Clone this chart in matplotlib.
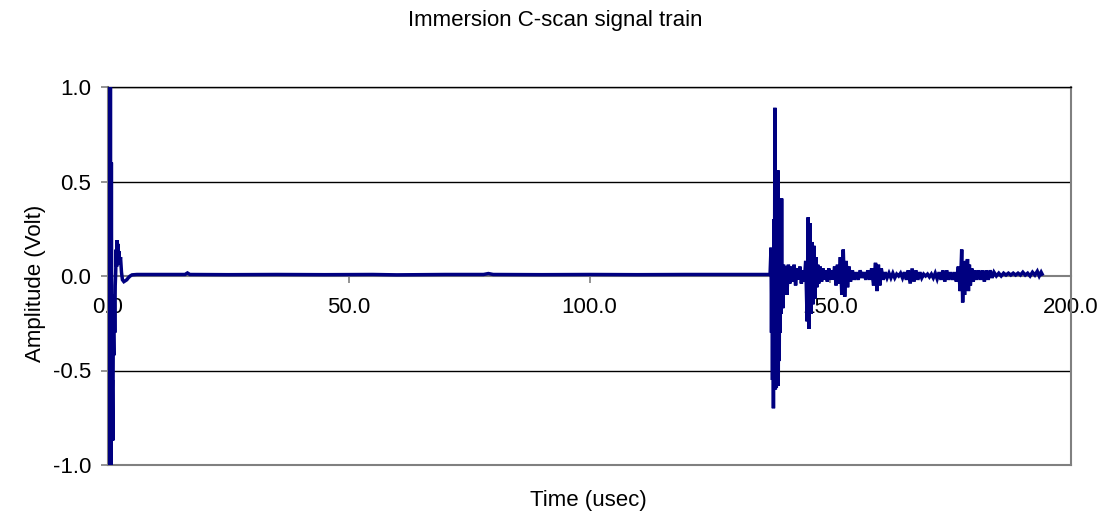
import matplotlib
matplotlib.use('Agg')
import matplotlib.pyplot as plt

plt.rcParams['font.family'] = ['Liberation Sans', 'DejaVu Sans']

# initial pulse (main bang) and ringing
bang_t = [0.0, 0.1, 0.2, 0.3, 0.4, 0.5, 0.6, 0.7, 0.8, 0.9, 1.0, 1.1, 1.2, 1.3, 1.4,
          1.5, 1.6, 1.7, 1.8, 1.9, 2.0, 2.1, 2.2, 2.3, 2.4, 2.6, 2.8, 3.0, 3.3, 3.6,
          3.9, 4.2, 4.6, 5.0]
bang_v = [0.02, 1.0, -1.0, 1.0, -1.0, 1.0, -1.0, 0.6, -0.87, -0.55, -0.87, -0.28, -0.42, -0.1, -0.3,
          -0.05, 0.02, 0.14, 0.05, 0.19, 0.1, 0.17, 0.08, 0.13, 0.06, 0.1, 0.02, -0.02, -0.03, -0.025,
          -0.02, -0.01, 0.0, 0.006]

# water path, nearly flat
flat_t = [6, 10, 16, 16.5, 17, 25, 35, 45, 55, 60, 70, 78, 79, 80, 90, 100, 110, 120, 130, 137.5]
flat_v = [0.008, 0.008, 0.008, 0.016, 0.008, 0.007, 0.008, 0.007, 0.008, 0.006, 0.008, 0.008, 0.013,
          0.008, 0.007, 0.008, 0.007, 0.008, 0.008, 0.008]

# front wall echo and the following reflections
echo_t = [137.7, 137.8, 137.9, 138.0, 138.1, 138.2, 138.3, 138.4, 138.5, 138.6, 138.7, 138.8,
          138.9, 139.0, 139.1, 139.2, 139.3, 139.4, 139.5, 139.6, 139.7, 139.8, 139.9, 140.0,
          140.1, 140.2, 140.3, 140.5, 140.7, 141.0, 141.3, 141.6, 141.9, 142.2, 142.5, 142.8,
          143.1, 143.4, 143.7, 144.0, 144.3, 144.6, 144.9,
          145.2, 145.4, 145.6, 145.8, 146.0, 146.2, 146.4, 146.6, 146.8, 147.0, 147.2, 147.4,
          147.6, 147.9, 148.2, 148.5, 148.8, 149.1, 149.4, 149.7, 150.0, 150.3, 150.6, 150.9,
          151.2, 151.5, 151.8, 152.1, 152.4, 152.7, 153.0, 153.3, 153.6, 153.9, 154.2, 154.6,
          155.0, 155.4, 155.8, 156.2, 156.6, 157.0, 157.4, 157.8, 158.2, 158.6, 159.0, 159.4,
          159.7, 160.0, 160.3, 160.6, 161.0, 161.4, 161.8, 162.2, 162.6, 163.0, 163.4, 163.8,
          164.2, 164.6, 165.0, 165.4, 165.8, 166.2, 166.6, 167.0, 167.4, 167.8, 168.2, 168.6,
          169.0, 169.4, 169.8, 170.2, 170.6, 171.0, 171.4, 171.8, 172.2, 172.6, 173.0, 173.4,
          173.8, 174.2, 174.6, 175.0, 175.4, 175.8, 176.2, 176.6, 177.0, 177.3, 177.5, 177.7,
          177.9, 178.1, 178.3, 178.5, 178.7, 178.9, 179.1, 179.4, 179.7, 180.0, 180.4, 180.8,
          181.2, 181.6, 182.0, 182.4, 182.8, 183.2, 183.6, 184.0, 184.5, 185.0, 185.5, 186.0,
          186.5, 187.0, 187.5, 188.0, 188.5, 189.0, 189.5, 190.0, 190.5, 191.0, 191.5, 192.0,
          192.5, 193.0, 193.4, 193.8, 194.0]
echo_v = [0.15, -0.3, 0.12, -0.55, 0.1, -0.70, 0.3, -0.5, 0.89, -0.6, 0.55, -0.59,
          0.5, -0.45, 0.56, -0.58, 0.3, -0.45, 0.2, -0.3, 0.1, -0.2, 0.41, -0.17,
          0.05, -0.17, 0.06, -0.05, 0.05, -0.1, 0.06, -0.04, 0.05, -0.03, 0.06, -0.05,
          0.04, -0.02, 0.05, -0.04, 0.03, -0.03, 0.08,
          -0.24, 0.31, -0.28, 0.28, -0.2, 0.18, -0.15, 0.16, -0.12, 0.1, -0.06, 0.06,
          -0.04, 0.05, -0.03, 0.04, -0.02, 0.03, -0.03, 0.04, -0.02, 0.03, -0.02, 0.05,
          -0.05, 0.06, -0.04, 0.1, -0.1, 0.14, -0.11, 0.08, -0.06, 0.05, -0.03, 0.03,
          -0.02, 0.02, -0.02, 0.03, -0.01, 0.02, -0.02, 0.03, -0.02, 0.04, -0.05, 0.07,
          -0.08, 0.06, -0.05, 0.04, -0.02, 0.02, -0.01, 0.015, -0.01, 0.015, -0.01, 0.01,
          0.0, 0.015, -0.01, 0.02, -0.02, 0.03, -0.04, 0.04, -0.03, 0.03, -0.02, 0.02,
          -0.01, 0.01, 0.0, 0.01, -0.005, 0.01, -0.01, 0.015, -0.015, 0.02, -0.02, 0.03,
          -0.03, 0.03, -0.02, 0.02, -0.02, 0.02, -0.03, 0.05, -0.08, 0.14, -0.14, 0.06,
          -0.1, 0.08, -0.07, 0.09, -0.08, 0.06, -0.05, 0.04, -0.03, 0.03, -0.02, 0.03,
          -0.02, 0.03, -0.03, 0.03, -0.02, 0.03, -0.01, 0.02, 0.0, 0.015, 0.0, 0.015,
          0.005, 0.015, 0.005, 0.015, 0.005, 0.015, 0.005, 0.02, 0.005, 0.015, 0.0, 0.02,
          0.005, 0.025, 0.0, 0.02, 0.01]

x_ticks = [0, 50, 100, 150, 200]
y_ticks = [-1.0, -0.5, 0.0, 0.5, 1.0]

time = bang_t + flat_t + echo_t
amp = bang_v + flat_v + echo_v

fig = plt.figure(figsize=(11.17, 5.17), dpi=100)
ax = fig.add_axes([108 / 1117, 52 / 517, 963 / 1117, 378 / 517])

ax.plot(time, amp, color='#000080', lw=2.5, solid_joinstyle='miter', zorder=3)

ax.set_xlim(0, 200)
ax.set_ylim(-1, 1)
ax.set_xticks(x_ticks)
ax.set_xticklabels(['{:.1f}'.format(t) for t in x_ticks])
ax.set_yticks(y_ticks)
ax.set_yticklabels(['{:.1f}'.format(v) for v in y_ticks])

# gridlines, black, except at the zero line (that one is the x axis)
for v in [-0.5, 0.5, 1.0]:
    ax.axhline(v, color='black', lw=1.0, zorder=1)
ax.axhline(-1.0, color='#808080', lw=1.5, zorder=2, clip_on=False)

ax.spines['bottom'].set_position(('data', 0))
for s in ['bottom', 'left', 'right', 'top']:
    ax.spines[s].set_color('#808080')
    ax.spines[s].set_linewidth(1.5)
ax.spines['top'].set_color('black')
ax.spines['top'].set_linewidth(1.0)

ax.tick_params(axis='both', direction='out', length=5, width=1.2, color='#808080',
               labelsize=16, labelcolor='black')
ax.tick_params(axis='x', pad=10)
ax.tick_params(axis='y', pad=7)

fig.text(0.497, 0.961, 'Immersion C-scan signal train', ha='center', va='center', fontsize=16)
fig.text(0.527, 0.031, 'Time (usec)', ha='center', va='center', fontsize=16)
fig.text(0.032, 0.452, 'Amplitude (Volt)', ha='center', va='center', rotation=90, fontsize=16)

fig.savefig('out.png', dpi=100)
